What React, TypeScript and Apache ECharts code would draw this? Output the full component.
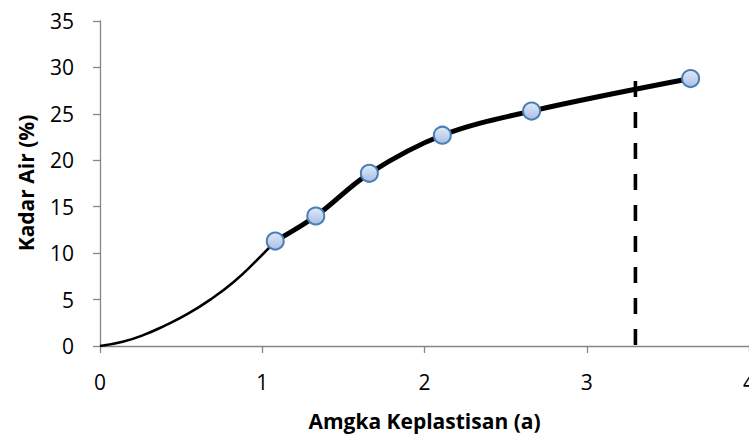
import React, { useEffect, useRef } from "react";
import * as echarts from "echarts";

const xAxisTitle = "Amgka Keplastisan (a)";
const yAxisTitle = "Kadar Air (%)";

// measured points (angka keplastisan, kadar air)
const pointX = [1.08, 1.33, 1.66, 2.11, 2.66, 3.64];
const pointY = [11.3, 14.0, 18.6, 22.7, 25.3, 28.8];

// thin extrapolated curve from the origin to the first point
const curveX = [0, 0.14, 0.27, 0.4, 0.54, 0.68, 0.82, 0.95, 1.08];
const curveY = [0, 0.45, 1.2, 2.2, 3.45, 5.0, 6.85, 8.95, 11.3];

// vertical dashed reference line
const dashX = [3.3, 3.3];
const dashY = [28.55, 0];

const xMin = 0, xMax = 4, xStep = 1;
const yMin = 0, yMax = 35, yStep = 5;

const zip = (a: number[], b: number[]) => a.map((v, i) => [v, b[i]]);

export default function App() {
  const ref = useRef<HTMLDivElement>(null);
  useEffect(() => {
    if (!ref.current) return;
    const chart = echarts.init(ref.current, null, { renderer: "svg" });
    const font = "'Open Sans', 'Liberation Sans', sans-serif";
    const axisGray = "#868686";
    chart.setOption({
      animation: false,
      backgroundColor: "#ffffff",
      grid: {
        left: 100,
        right: 0,
        top: 21,
        bottom: 90,
        containLabel: false,
        outerBoundsMode: "none",
      },
      xAxis: {
        type: "value",
        min: xMin,
        max: xMax,
        interval: xStep,
        name: xAxisTitle,
        nameLocation: "middle",
        nameGap: 64,
        nameTextStyle: { fontFamily: font, fontSize: 21, fontWeight: "bold", color: "#000" },
        axisLine: { show: true, lineStyle: { color: axisGray, width: 1.3 } },
        axisTick: { show: true, length: 7, inside: false, lineStyle: { color: axisGray, width: 1.3 } },
        axisLabel: { fontFamily: font, fontSize: 21, color: "#000", margin: 25, showMaxLabel: true },
        splitLine: { show: false },
      },
      yAxis: {
        type: "value",
        min: yMin,
        max: yMax,
        interval: yStep,
        axisLine: { show: true, lineStyle: { color: axisGray, width: 1.3 } },
        axisTick: { show: true, length: 7, inside: false, lineStyle: { color: axisGray, width: 1.3 } },
        axisLabel: { fontFamily: font, fontSize: 21, color: "#000", margin: 26 },
        splitLine: { show: false },
      },
      graphic: [
        {
          type: "text",
          x: 26,
          y: 183,
          rotation: Math.PI / 2,
          style: {
            text: yAxisTitle,
            fontFamily: font,
            fontSize: 21,
            fontWeight: "bold",
            fill: "#000",
            textAlign: "center",
            textVerticalAlign: "middle",
          },
        },
      ],
      series: [
        {
          type: "line",
          data: zip(curveX, curveY),
          smooth: 0.5,
          showSymbol: false,
          symbol: "none",
          lineStyle: { color: "#000", width: 2.6 },
          z: 2,
        },
        {
          type: "line",
          data: zip(dashX, dashY),
          showSymbol: false,
          symbol: "none",
          lineStyle: { color: "#000", width: 3.6, type: [16, 15], cap: "butt" },
          z: 3,
        },
        {
          type: "line",
          data: zip(pointX, pointY),
          smooth: 0.35,
          symbol: "circle",
          symbolSize: 17,
          showSymbol: true,
          lineStyle: { color: "#000", width: 5 },
          itemStyle: {
            color: new echarts.graphic.LinearGradient(0, 0, 0, 1, [
              { offset: 0, color: "#e3eaf7" },
              { offset: 1, color: "#a9bee5" },
            ]),
            borderColor: "#4a7ebb",
            borderWidth: 2,
          },
          z: 4,
        },
      ],
    });
    return () => chart.dispose();
  }, []);
  return (
    <div
      ref={ref}
      style={{ position: "fixed", left: 0, top: 0, width: 749, height: 436 }}
    />
  );
}
